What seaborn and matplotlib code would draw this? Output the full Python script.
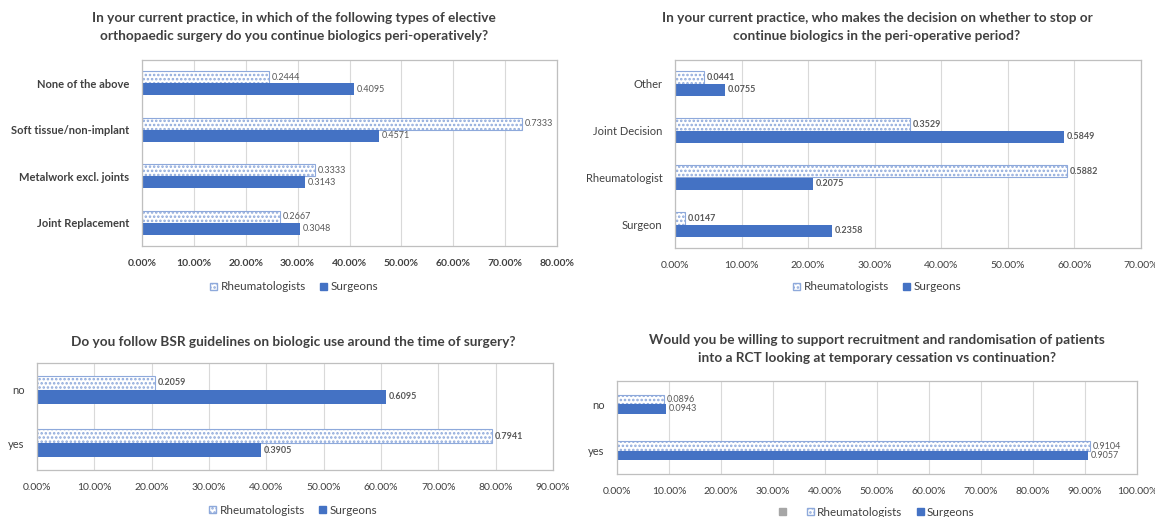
import matplotlib
matplotlib.use('Agg')
import matplotlib.pyplot as plt
import pandas as pd
import seaborn as sns
from matplotlib.patches import Patch
from matplotlib.ticker import PercentFormatter, MultipleLocator

# dados
groups = ['Rheumatologists', 'Surgeons']

q1_title = 'In your current practice, in which of the following types of elective\northopaedic surgery do you continue biologics peri-operatively?'
q1_cats = ['None of the above', 'Soft tissue/non-implant', 'Metalwork excl. joints', 'Joint Replacement']
q1_rheum = [0.2444, 0.7333, 0.3333, 0.2667]
q1_surg = [0.4095, 0.4571, 0.3143, 0.3048]

q2_title = 'In your current practice, who makes the decision on whether to stop or\ncontinue biologics in the peri-operative period?'
q2_cats = ['Other', 'Joint Decision', 'Rheumatologist', 'Surgeon']
q2_rheum = [0.0441, 0.3529, 0.5882, 0.0147]
q2_surg = [0.0755, 0.5849, 0.2075, 0.2358]

q3_title = 'Do you follow BSR guidelines on biologic use around the time of surgery?'
q3_cats = ['no', 'yes']
q3_rheum = [0.2059, 0.7941]
q3_surg = [0.6095, 0.3905]

q4_title = 'Would you be willing to support recruitment and randomisation of patients\ninto a RCT looking at temporary cessation vs continuation?'
q4_cats = ['no', 'yes']
q4_rheum = [0.0896, 0.9104]
q4_surg = [0.0943, 0.9057]

SOLID = '#4472C4'
LIGHT = '#8EA9DB'
GRID = '#D9D9D9'
TXT = '#404040'
HATCH = '....'

sns.set_theme(style='white')
plt.rcParams['font.family'] = ['Lato', 'DejaVu Sans']
plt.rcParams['hatch.linewidth'] = 1.2

W, H = 1155, 517
fig = plt.figure(figsize=(W / 100, H / 100), dpi=100)


def box(l, t, r, b):
    # converte pixels em fracoes da figura
    return [l / W, 1 - b / H, (r - l) / W, (b - t) / H]


def painel(rect, cats, rheum, surg, xmax, width, title, tx, ty, ly,
           cat_bold=False, tick_bold=False, lab_bold=False, extra_legend=False):
    ax = fig.add_axes(rect)
    df = pd.DataFrame({
        'cat': cats * 2,
        'grupo': [groups[0]] * len(cats) + [groups[1]] * len(cats),
        'valor': rheum + surg,
    })
    sns.barplot(data=df, y='cat', x='valor', hue='grupo', hue_order=groups,
                palette=['white', SOLID], width=width, ax=ax, legend=False,
                saturation=1)
    for p in ax.containers[0]:
        p.set_edgecolor(LIGHT)
        p.set_hatch(HATCH)
        p.set_linewidth(0.8)
    for p in ax.containers[1]:
        p.set_edgecolor(SOLID)
        p.set_linewidth(0)
    wt = 'bold' if lab_bold else 'normal'
    for c in ax.containers:
        ax.bar_label(c, fmt='%.4f', padding=2, fontsize=6.5, color='#595959', fontweight=wt)

    ax.set_xlim(0, xmax)
    ax.xaxis.set_major_locator(MultipleLocator(0.1))
    ax.xaxis.set_major_formatter(PercentFormatter(xmax=1, decimals=2))
    ax.grid(axis='x', color=GRID, linewidth=0.8)
    ax.set_axisbelow(True)
    for s in ax.spines.values():
        s.set_visible(True)
        s.set_color('#BFBFBF')
        s.set_linewidth(0.9)
    ax.set_xlabel('')
    ax.set_ylabel('')
    ax.tick_params(axis='x', length=0, pad=9, labelsize=7.5, labelcolor=TXT)
    ax.tick_params(axis='y', length=0, pad=9, labelsize=8, labelcolor=TXT)
    for t in ax.get_xticklabels():
        t.set_fontweight('bold' if tick_bold else 'normal')
    for t in ax.get_yticklabels():
        t.set_fontweight('bold' if cat_bold else 'normal')

    fig.text(tx / W, 1 - ty / H, title, ha='center', va='center', fontsize=9.8,
             fontweight='bold', color=TXT, linespacing=1.55)

    handles = [Patch(facecolor='white', edgecolor=LIGHT, hatch=HATCH, label=groups[0]),
               Patch(facecolor=SOLID, edgecolor=SOLID, label=groups[1])]
    if extra_legend:
        handles = [Patch(facecolor='#A6A6A6', edgecolor='#A6A6A6', label=' ')] + handles
    fig.legend(handles=handles, loc='center', bbox_to_anchor=(tx / W, 1 - ly / H),
               ncol=len(handles), frameon=False, fontsize=8.4, handlelength=0.6,
               handleheight=0.6, handletextpad=0.3, columnspacing=1.2,
               labelcolor=TXT)
    return ax


painel(box(142, 60, 557, 246), q1_cats, q1_rheum, q1_surg, 0.8, 0.52,
       q1_title, 294, 27, 287, cat_bold=True, tick_bold=True)
painel(box(675, 60, 1141, 248), q2_cats, q2_rheum, q2_surg, 0.7, 0.53,
       q2_title, 877, 27, 287, lab_bold=True)
painel(box(37, 363, 553, 470), q3_cats, q3_rheum, q3_surg, 0.9, 0.53,
       q3_title, 293, 342, 510, lab_bold=True)
painel(box(617, 381, 1137, 474), q4_cats, q4_rheum, q4_surg, 1.0, 0.4,
       q4_title, 877, 349, 512, extra_legend=True)

plt.savefig('out.png', dpi=100)
